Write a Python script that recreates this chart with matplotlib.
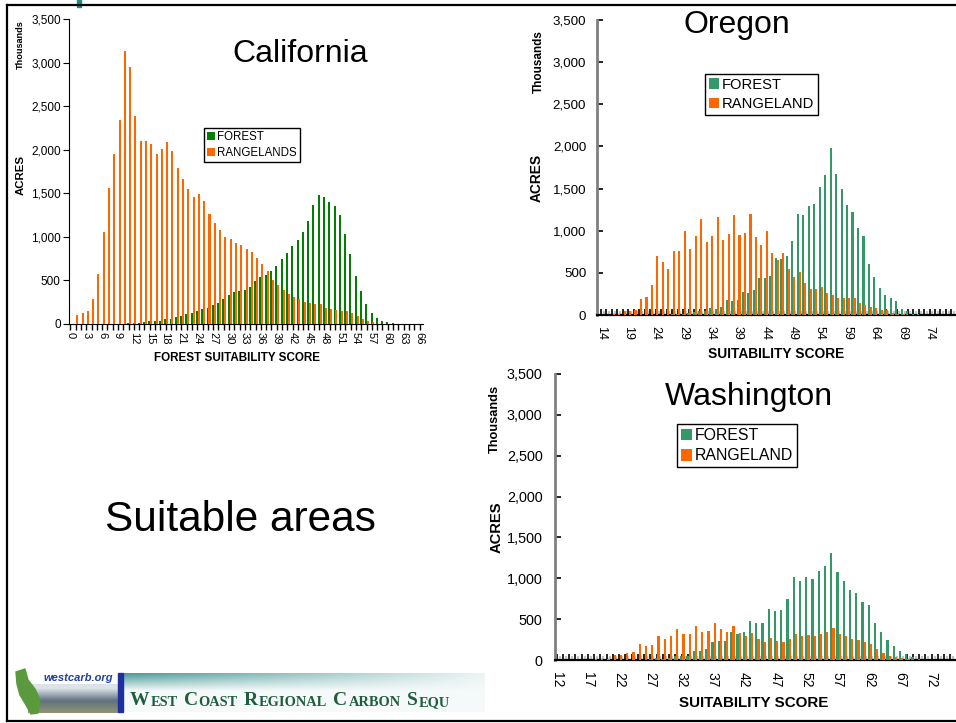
import numpy as np
import matplotlib.pyplot as plt
from matplotlib.ticker import MultipleLocator, FixedLocator, FuncFormatter
from matplotlib.patches import Rectangle, Polygon
from matplotlib.lines import Line2D

plt.rcParams['font.family'] = ['Liberation Sans', 'DejaVu Sans']

# ---- data (thousands of acres per suitability score) ----
ca_scores = list(range(0, 67))
ca_forest = [0, 0, 0, 0, 0, 0, 0, 0, 0, 0,
             5, 10, 10, 10, 27, 38, 38, 38, 57, 61,
             80, 96, 115, 130, 153, 172, 187, 222, 245, 283,
             333, 367, 379, 390, 428, 493, 543, 562, 608, 666,
             746, 815, 895, 964, 1060, 1182, 1366, 1480, 1454, 1396,
             1354, 1251, 1033, 803, 551, 379, 230, 122, 69, 34,
             23, 11, 0, 0, 0, 0, 0]
ca_range = [0, 103, 126, 149, 287, 574, 1056, 1561, 1951, 2341,
            3133, 2949, 2387, 2100, 2100, 2066, 1951, 2008, 2088, 1985,
            1790, 1664, 1549, 1457, 1492, 1411, 1262, 1159, 1079, 998,
            975, 929, 907, 861, 826, 761, 689, 608, 505, 448,
            390, 348, 314, 287, 249, 245, 230, 226, 184, 172,
            161, 149, 149, 126, 92, 57, 34, 19, 0, 0,
            0, 0, 0, 0, 0, 0, 0]

or_scores = list(range(14, 79))
or_forest = [0, 0, 0, 0, 0, 0, 0, 0, 0, 0, 0, 0,
             5, 8, 10, 12, 24, 36, 47, 47, 83, 71,
             95, 178, 166, 178, 273, 261, 297, 439, 443, 463,
             676, 664, 700, 878, 1198, 1187, 1293, 1317, 1519, 1661,
             1981, 1673, 1495, 1305, 1222, 1032, 937, 605, 451, 320,
             237, 202, 166, 71, 47, 16, 8,
             0, 0, 0, 0, 0, 0]
or_range = [0, 0,
            12, 12, 47, 47, 59,
            190, 214, 356, 700, 629, 546, 759, 759, 997, 783,
            937, 1139, 866, 937, 1163, 890, 961, 1187, 949, 973,
            1198, 925, 831, 997, 736, 653, 736, 546, 451, 510,
            380, 308, 308, 332, 261, 237, 202, 202, 202, 202,
            142, 119, 95, 83, 59, 59, 24, 12, 12,
            0, 0, 0, 0, 0, 0, 0, 0, 0]

wa_scores = list(range(12, 76))
wa_forest = [0, 0, 0, 0, 0, 0, 0, 0, 0, 0, 0, 0, 0, 0, 0,
             12, 24, 12, 24,
             49, 49, 49, 110, 110, 135, 220, 233, 233, 343,
             318, 343, 477, 453, 453, 624, 600, 612, 747, 1016,
             967, 1016, 991, 1089, 1150, 1310, 1077, 967, 857, 820,
             710, 673, 453, 343, 245, 171, 110, 73, 37, 12,
             0, 0, 0, 0, 0]
wa_range = [0, 0, 0, 0, 0, 0,
            8, 12, 16,
            57, 61, 86, 98, 196, 171, 184, 294, 257, 294,
            379, 318, 318, 416, 343, 355, 453, 379, 343, 416,
            330, 294, 330, 257, 220, 269, 233, 220, 257, 318,
            294, 306, 294, 318, 343, 392, 318, 294, 257, 245,
            220, 196, 135, 86, 49, 37, 24, 12,
            0, 0, 0, 0, 0, 0, 0]

banner_words = ['WEST', 'COAST', 'REGIONAL', 'CARBON', 'SEQU']

ORANGE = '#ff6600'
CA_GREEN = '#008000'
NW_GREEN = '#339966'

W, H = 956, 723
fig = plt.figure(figsize=(W / 100, H / 100), dpi=100)


def fx(x):
    return x / W


def fy(y):
    return 1 - y / H


def box(l, t, r, b):
    return [fx(l), fy(b), (r - l) / W, (b - t) / H]


def thousands(v, p):
    return f'{v:,.0f}'


def bars(ax, scores, forest, rangeland, green):
    x = np.array(scores)
    h1 = ax.bar(x - 0.06, forest, width=0.38, color=green, linewidth=0,
                antialiased=False, zorder=3)
    h2 = ax.bar(x + 0.30, rangeland, width=0.38, color=ORANGE, linewidth=0,
                antialiased=False, zorder=3)
    ax.set_ylim(0, 3500)
    ax.yaxis.set_major_locator(MultipleLocator(500))
    ax.yaxis.set_major_formatter(FuncFormatter(thousands))
    ax.spines['top'].set_visible(False)
    ax.spines['right'].set_visible(False)
    ax.patch.set_alpha(0)
    return h1, h2


def legend(ax, handles, labels, left, top, size):
    lg = ax.legend(handles, labels, loc='upper left',
                   bbox_to_anchor=(fx(left), fy(top)), bbox_transform=fig.transFigure,
                   frameon=True, fancybox=False, edgecolor='black', framealpha=1,
                   borderpad=0.25, borderaxespad=0, handlelength=0.7, handleheight=0.7,
                   handletextpad=0.2, labelspacing=0.35, prop={'size': size})
    lg.get_frame().set_linewidth(1.0)


# ---- California ----
ax = fig.add_axes(box(69, 19, 423, 324))
h1, h2 = bars(ax, ca_scores, ca_forest, ca_range, CA_GREEN)
ax.set_xlim(-0.26, 66.66)
ax.xaxis.set_major_locator(MultipleLocator(3))
ax.xaxis.set_minor_locator(MultipleLocator(1))
ax.tick_params(axis='x', which='both', direction='out', length=4, width=1)
ax.tick_params(axis='x', which='major', labelsize=8, pad=2, labelrotation=-90)
ax.tick_params(axis='y', direction='out', length=4, labelsize=8.5, pad=2)
legend(ax, [h1, h2], ['FOREST', 'RANGELANDS'], 204, 128, 8.3)
fig.text(fx(236.7), fy(357.7), 'FOREST SUITABILITY SCORE', ha='center', va='center',
         fontsize=8.4, fontweight='bold')
fig.text(fx(20.7), fy(175), 'ACRES', rotation=90, ha='center', va='center',
         fontsize=8.2, fontweight='bold')
fig.text(fx(20), fy(44.5), 'Thousands', rotation=90, ha='center', va='center',
         fontsize=6.6, fontweight='bold')
fig.text(fx(300), fy(61.5), 'California', ha='center', va='baseline', fontsize=23)


def northwest(ax, scores, forest, rangeland, first, last, xlim, tsize, lsize, pad):
    h1, h2 = bars(ax, scores, forest, rangeland, NW_GREEN)
    ax.set_xlim(*xlim)
    ax.xaxis.set_major_locator(FixedLocator(list(range(first, last + 1, 5))))
    ax.xaxis.set_minor_locator(MultipleLocator(1))
    ax.tick_params(axis='x', which='both', direction='in', length=4, width=1.2)
    ax.tick_params(axis='x', which='major', labelsize=tsize, pad=pad, labelrotation=-90)
    ax.tick_params(axis='y', direction='in', length=4, width=1.2, labelsize=lsize, pad=pad)
    ax.spines['left'].set_color('#808080')
    ax.spines['left'].set_linewidth(2)
    ax.spines['bottom'].set_linewidth(1.6)
    # grey shadow stubs beside the category ticks
    sec = ax.secondary_xaxis('bottom')
    sec.set_xticks([s + 0.5 for s in scores])
    sec.tick_params(direction='in', length=3, width=1.6, color='#c4c4c4', labelbottom=False)
    sec.spines['bottom'].set_visible(False)
    return h1, h2


# ---- Oregon ----
ax = fig.add_axes(box(597.3, 20, 956, 315))
h1, h2 = northwest(ax, or_scores, or_forest, or_range, 14, 74, (13.32, 78.84), 9, 9.6, 8)
legend(ax, [h1, h2], ['FOREST', 'RANGELAND'], 705, 74, 10.6)
fig.text(fx(775.8), fy(354), 'SUITABILITY SCORE', ha='center', va='center',
         fontsize=9.9, fontweight='bold')
fig.text(fx(536.7), fy(178), 'ACRES', rotation=90, ha='center', va='center',
         fontsize=9.9, fontweight='bold')
fig.text(fx(539.3), fy(61.7), 'Thousands', rotation=90, ha='center', va='center',
         fontsize=8.5, fontweight='bold')
fig.text(fx(736.7), fy(33.3), 'Oregon', ha='center', va='baseline', fontsize=23)

# ---- Washington ----
ax = fig.add_axes(box(555, 374, 956, 660))
h1, h2 = northwest(ax, wa_scores, wa_forest, wa_range, 12, 72, (11.75, 75.9), 10, 10.4, 9)
legend(ax, [h1, h2], ['FOREST', 'RANGELAND'], 677, 424, 11.4)
fig.text(fx(753.8), fy(703.3), 'SUITABILITY SCORE', ha='center', va='center',
         fontsize=10.9, fontweight='bold')
fig.text(fx(496.7), fy(527.5), 'ACRES', rotation=90, ha='center', va='center',
         fontsize=10.6, fontweight='bold')
fig.text(fx(495), fy(419), 'Thousands', rotation=90, ha='center', va='center',
         fontsize=9.2, fontweight='bold')
fig.text(fx(748.7), fy(405), 'Washington', ha='center', va='baseline', fontsize=23)

fig.text(fx(240), fy(531), 'Suitable areas', ha='center', va='baseline', fontsize=30.5)

# ---- slide frame ----
fig.add_artist(Line2D([fx(7), 1], [fy(5), fy(5)], color='black', lw=1.6))
fig.add_artist(Line2D([fx(7), fx(7)], [fy(5), fy(720.5)], color='black', lw=1.6))
fig.add_artist(Line2D([fx(7), 1], [fy(720.5), fy(720.5)], color='black', lw=1.6))
fig.add_artist(Rectangle((fx(77), fy(7)), 4 / W, 7 / H, color='#1f8c8c',
                         transform=fig.transFigure))

# ---- westcarb footer ----
land = fig.add_axes(box(28, 684, 118, 713))
rows = np.linspace(0, 1, 30)[:, None]
sky = np.array([0.86, 0.89, 0.91])
hill = np.array([0.36, 0.43, 0.50])
field = np.array([0.55, 0.58, 0.45])
t = np.clip(rows * 2.2 - 0.3, 0, 1)[..., None]
u = np.clip(rows * 2.2 - 1.2, 0, 1)[..., None]
img = sky * (1 - t) + hill * t
img = img * (1 - u) + field * u
land.imshow(np.repeat(img, 90, axis=1), aspect='auto')
land.set_axis_off()
fig.add_artist(Polygon([(fx(16), fy(672)), (fx(25), fy(669)), (fx(28), fy(680)),
                        (fx(35), fy(689)), (fx(40), fy(700)), (fx(38), fy(713)),
                        (fx(31), fy(714)), (fx(26), fy(705)), (fx(20), fy(695)),
                        (fx(17), fy(684))], closed=True, color='#5a9a3c',
                       transform=fig.transFigure))
fig.text(fx(43), fy(678), 'westcarb.org', ha='left', va='center', fontsize=8,
         fontweight='bold', fontstyle='italic', color='#2040a0')
fig.add_artist(Rectangle((fx(118), fy(712)), 5 / W, 39 / H, color='#1e2fa0',
                         transform=fig.transFigure))

ban = fig.add_axes(box(123, 673, 484, 712))
gy = np.linspace(0, 1, 40)[:, None]
gx = np.linspace(0, 1, 360)[None, :]
strength = np.clip(1 - gy * 2.2, 0, 1) * (1 - 0.95 * gx) * 0.85 + 0.05
teal = np.array([0.22, 0.56, 0.56])
banner = 1 - np.clip(strength, 0, 1)[..., None] * (1 - teal)
ban.imshow(banner, aspect='auto', extent=(0, 1, 0, 1))
ban.set_xlim(0, 1)
ban.set_ylim(0, 1)
ban.set_axis_off()

# small-caps banner title, each piece chained after the previous one
prev = None
for word in banner_words:
    if prev is None:
        big = ban.text(fx(130), fy(705), word[0], transform=fig.transFigure, ha='left',
                       va='baseline', fontsize=14, fontweight='bold',
                       family='Liberation Serif', color='#1e5e3c', clip_on=True)
    else:
        big = ban.annotate(word[0], xy=(1, 0), xycoords=prev, xytext=(4.5, 0),
                           textcoords='offset points', ha='left', va='bottom',
                           fontsize=14, fontweight='bold', family='Liberation Serif',
                           color='#1e5e3c', annotation_clip=False, clip_on=True)
    prev = ban.annotate(word[1:], xy=(1, 0), xycoords=big, xytext=(0.6, 0),
                        textcoords='offset points', ha='left', va='bottom', fontsize=10.4,
                        fontweight='bold', family='Liberation Serif', color='#1e5e3c',
                        annotation_clip=False, clip_on=True)

fig.savefig('out.png', dpi=100)
